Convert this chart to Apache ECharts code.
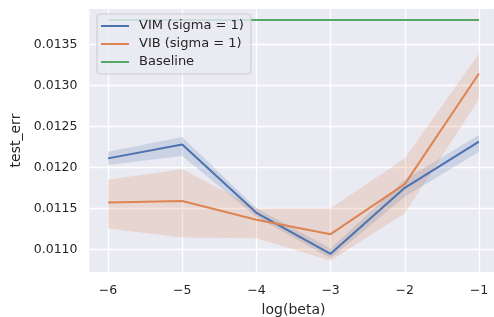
<!DOCTYPE html>
<html>
<head>
<meta charset="utf-8">
<script src="https://cdn.jsdelivr.net/npm/echarts@6/dist/echarts.min.js"></script>
<style>
  html, body { margin: 0; padding: 0; background: #fff; }
  #main { width: 494px; height: 317px; }
</style>
</head>
<body>
<div id="main"></div>
<script>
// log(beta) values
var logBeta = [-6, -5, -4, -3, -2, -1];

// VIM (sigma = 1): mean and confidence band
var vimMean = [0.01211, 0.01228, 0.011445, 0.010945, 0.011750, 0.012315];
var vimLow  = [0.01203, 0.01214, 0.011395, 0.010890, 0.011640, 0.012190];
var vimHigh = [0.01219, 0.01237, 0.011500, 0.011010, 0.011850, 0.012395];

// VIB (sigma = 1)
var vibMean = [0.01157, 0.01159, 0.01136, 0.011185, 0.011795, 0.013145];
var vibLow  = [0.011255, 0.011145, 0.011135, 0.01086, 0.01144, 0.01283];
var vibHigh = [0.01185, 0.01198, 0.01150, 0.01150, 0.01211, 0.01339];

// baseline
var baseline = [0.01380, 0.01380, 0.01380, 0.01380, 0.01380, 0.01380];

var xTicks = [-6, -5, -4, -3, -2, -1];
var yTicks = [0.0110, 0.0115, 0.0120, 0.0125, 0.0130, 0.0135];

var textColor = '#262626';
var font = 'DejaVu Sans';

function pairs(ys) {
    return logBeta.map(function (x, i) { return [x, ys[i]]; });
}

function band(name, lo, hi, color) {
    return {
        name: name,
        type: 'custom',
        z: 1,
        silent: true,
        data: logBeta.map(function (x, i) { return [x, lo[i], hi[i]]; }),
        encode: { x: 0, y: [1, 2] },
        renderItem: function (params, api) {
            if (params.dataIndex !== 0) return null;
            var pts = [];
            for (var i = 0; i < logBeta.length; i++) pts.push(api.coord([logBeta[i], hi[i]]));
            for (var j = logBeta.length - 1; j >= 0; j--) pts.push(api.coord([logBeta[j], lo[j]]));
            return {
                type: 'polygon',
                shape: { points: pts },
                style: { fill: color, stroke: null }
            };
        }
    };
}

function line(name, ys, color) {
    return {
        name: name,
        type: 'line',
        data: pairs(ys),
        z: 2,
        symbol: 'none',
        lineStyle: { color: color, width: 2 },
        itemStyle: { color: color }
    };
}

var chart = echarts.init(document.getElementById('main'));
chart.setOption({
    animation: false,
    grid: {
        left: 89.5, top: 9, width: 408, height: 263,
        outerBoundsMode: 'none',
        containLabel: false,
        show: true, backgroundColor: '#EAEAF2', borderWidth: 0
    },
    legend: {
        data: ['VIM (sigma = 1)', 'VIB (sigma = 1)', 'Baseline'],
        orient: 'vertical',
        left: 97, top: 14,
        z: 10,
        icon: 'rect',
        itemWidth: 28, itemHeight: 2, itemGap: 4,
        padding: [5, 7, 5, 4],
        backgroundColor: 'rgba(234,234,242,0.8)',
        borderColor: '#cccccc', borderWidth: 1, borderRadius: 3,
        textStyle: { color: textColor, fontFamily: font, fontSize: 13, lineHeight: 14, padding: [0, 0, 0, 5] }
    },
    xAxis: {
        type: 'value',
        min: -6.25, max: -0.75,
        name: 'log(beta)',
        nameLocation: 'middle',
        nameGap: 31,
        nameTextStyle: { color: textColor, fontFamily: font, fontSize: 14 },
        axisLine: { show: false },
        axisTick: { show: false, customValues: xTicks },
        axisLabel: {
            customValues: xTicks, margin: 12, color: textColor, fontFamily: font, fontSize: 12.5,
            formatter: function (v) { return String(v).replace('-', '\u2212'); }
        },
        splitLine: { show: true, lineStyle: { color: '#ffffff', width: 1.3 } }
    },
    yAxis: {
        type: 'value',
        min: 0.010723, max: 0.013933,
        name: 'test_err',
        nameLocation: 'middle',
        nameGap: 66,
        nameRotate: 90,
        nameTextStyle: { color: textColor, fontFamily: font, fontSize: 14 },
        axisLine: { show: false },
        axisTick: { show: false, customValues: yTicks },
        axisLabel: {
            customValues: yTicks, margin: 12, color: textColor, fontFamily: font, fontSize: 12.5,
            formatter: function (v) { return v.toFixed(4); }
        },
        splitLine: { show: true, lineStyle: { color: '#ffffff', width: 1.3 } }
    },
    series: [
        band('vim band', vimLow, vimHigh, 'rgba(76,114,176,0.2)'),
        band('vib band', vibLow, vibHigh, 'rgba(221,132,82,0.2)'),
        line('VIM (sigma = 1)', vimMean, '#4C72B0'),
        line('VIB (sigma = 1)', vibMean, '#DD8452'),
        line('Baseline', baseline, '#55A868')
    ]
});
</script>
</body>
</html>
